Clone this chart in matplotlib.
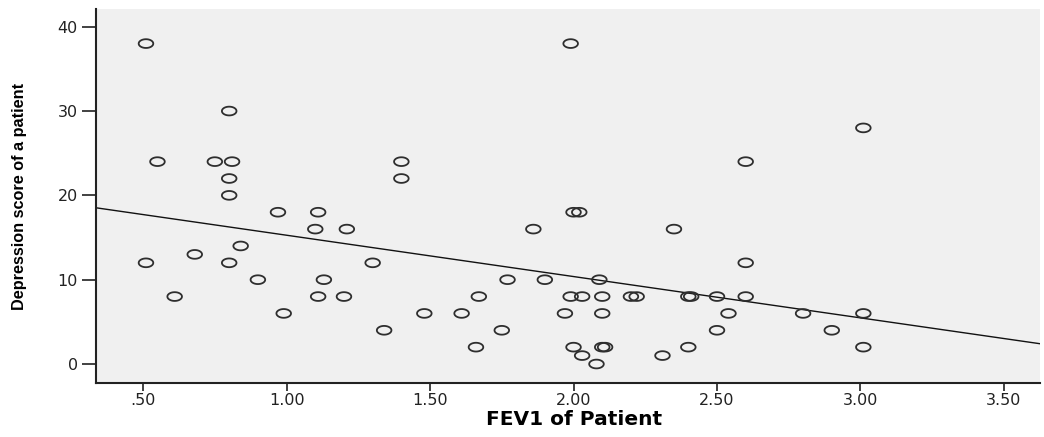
import numpy as np
import matplotlib
matplotlib.use("Agg")
import matplotlib.pyplot as plt
from matplotlib.path import Path
from matplotlib.ticker import FuncFormatter

fev1 = [0.51, 0.55, 0.75, 0.81, 0.80, 0.80, 0.80, 0.97, 1.11, 1.10,
        1.21, 0.51, 0.61, 0.68, 0.84, 0.80, 0.90, 0.99, 1.13, 1.11,
        1.20, 1.30, 1.40, 1.40, 1.34, 1.48, 1.61, 1.67, 1.66, 1.75,
        1.77, 1.86, 1.90, 1.99, 2.00, 2.02, 1.97, 1.99, 2.03, 2.09,
        2.10, 2.10, 2.00, 2.03, 2.08, 2.10, 2.11, 2.20, 2.22, 2.31,
        2.35, 2.40, 2.41, 2.40, 2.50, 2.50, 2.54, 2.60, 2.60, 2.60,
        2.80, 2.90, 3.01, 3.01, 3.01]
depression = [38, 24, 24, 24, 30, 22, 20, 18, 18, 16,
              16, 12, 8, 13, 14, 12, 10, 6, 10, 8,
              8, 12, 24, 22, 4, 6, 6, 8, 2, 4,
              10, 16, 10, 38, 18, 18, 6, 8, 8, 10,
              8, 6, 2, 1, 0, 2, 2, 8, 8, 1,
              16, 8, 8, 2, 8, 4, 6, 24, 12, 8,
              6, 4, 28, 6, 2]

x_ticks = [0.5, 1.0, 1.5, 2.0, 2.5, 3.0, 3.5]
y_ticks = [0, 10, 20, 30, 40]

slope, intercept = np.polyfit(fev1, depression, 1)

fig = plt.figure(figsize=(10.44, 4.37), dpi=100)
ax = fig.add_axes([0.092, 0.1236, 0.904, 0.855])
ax.set_facecolor("#f0f0f0")

theta = np.linspace(0, 2 * np.pi, 60)
ell = Path(np.column_stack([np.cos(theta), 0.6 * np.sin(theta)]), closed=True)

ax.scatter(fev1, depression, s=10.5 ** 2, marker=ell, facecolors="none",
           edgecolors="#2e2e2e", linewidths=1.3, zorder=3)

ax.set_xlim(0.336, 3.625)
ax.set_ylim(-2.25, 42.06)
xs = np.array(ax.get_xlim())
ax.plot(xs, intercept + slope * xs, color="#111111", lw=1.0, zorder=2)

ax.set_xticks(x_ticks)
ax.set_yticks(y_ticks)
ax.xaxis.set_major_formatter(FuncFormatter(lambda v, p: f"{v:.2f}".lstrip("0")))
ax.tick_params(axis="x", length=6, width=1.3, color="#333333", labelsize=11.5,
               labelcolor="#222222", pad=1)
ax.tick_params(axis="y", length=10, width=1.3, color="#333333", labelsize=11.5,
               labelcolor="#222222", pad=3)

for s in ["top", "right"]:
    ax.spines[s].set_visible(False)
for s in ["left", "bottom"]:
    ax.spines[s].set_linewidth(1.5)
    ax.spines[s].set_color("#222222")

ax.set_xlabel("FEV1 of Patient", fontsize=14.5, fontweight="bold", labelpad=2)
ax.xaxis.label.set_x(0.507)
ax.set_ylabel("Depression score of a patient",
              family=["Liberation Sans", "DejaVu Sans"],
              fontsize=11.7, fontweight="bold", labelpad=22)

fig.savefig("out.png", dpi=100)
